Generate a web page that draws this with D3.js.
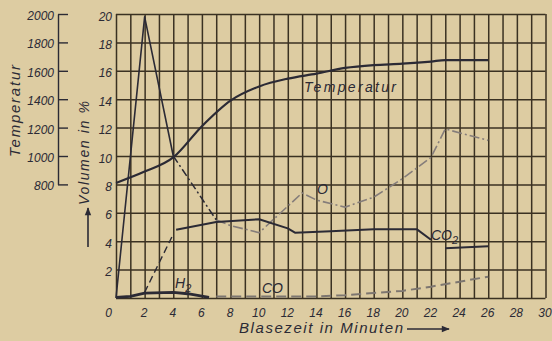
<!DOCTYPE html>
<html>
<head>
<meta charset="utf-8">
<script src="https://cdn.jsdelivr.net/npm/d3@7"></script>
<style>
	body { margin: 0; background: #ddcca2; }
	svg text { font-family: 'Liberation Sans', Arial, sans-serif; font-style: italic; fill: #2b2a35; }
</style>
</head>
<body>
<div id="chart"></div>
<script>
// tick labels
const xTicks = [0, 2, 4, 6, 8, 10, 12, 14, 16, 18, 20, 22, 24, 26, 28, 30]
const yTicks = [2, 4, 6, 8, 10, 12, 14, 16, 18, 20]
const tempTicks = [800, 1000, 1200, 1400, 1600, 1800, 2000]

// Temperatur (deg C)
const tempTime = [0, 2, 4, 6, 8, 10, 12, 14, 16, 18, 20, 22, 23, 26]
const tempValue = [810, 890, 990, 1210, 1390, 1490, 1545, 1580, 1620, 1640, 1650, 1665, 1675, 1675]

// O (vol %)
const oTime = [0, 2, 4, 7, 8, 10, 13, 14, 16, 18, 20, 22, 23, 26]
const oValue = [0, 19.8, 10, 5.5, 5.1, 4.6, 7.4, 6.9, 6.4, 7.1, 8.4, 9.9, 11.9, 11.1]

// CO2 (vol %), null = break in the line
const co2Time = [2, 3.9, 4, 4.2, 7, 10, 12, 12.5, 15, 18, 21, 22, 22.5, 23, 26]
const co2Value = [0.4, 4.3, null, 4.8, 5.35, 5.55, 4.9, 4.6, 4.7, 4.85, 4.85, 4.1, null, 3.5, 3.65]

// H2 (vol %)
const h2Time = [0, 1, 2, 4, 5, 6.5]
const h2Value = [0.05, 0.12, 0.35, 0.4, 0.3, 0.05]

// CO (vol %)
const coTime = [7, 14, 16, 18, 20, 22, 24, 26]
const coValue = [0.1, 0.1, 0.2, 0.35, 0.5, 0.8, 1.15, 1.5]

var width = 552
var height = 341
var ink = '#2b2a35'
var gridColor = '#3a3122'

var x = d3.scaleLinear().domain([0, 30]).range([116, 545.5])
var y = d3.scaleLinear().domain([0, 20]).range([298, 14])
// temperature axis shares the upper part of the volume axis
var yt = d3.scaleLinear().domain([800, 2000]).range([y(8), y(20)])

var svg = d3.select('#chart')
	.append('svg')
	.attr('width', width)
	.attr('height', height)

svg.append('rect')
	.attr('width', width)
	.attr('height', height)
	.attr('fill', '#ddcca2')

var defs = svg.append('defs')
defs.append('marker')
	.attr('id', 'arrow')
	.attr('viewBox', '0 0 10 10')
	.attr('refX', 9).attr('refY', 5)
	.attr('markerWidth', 7).attr('markerHeight', 5)
	.attr('orient', 'auto')
	.append('path')
	.attr('d', 'M0,1 L10,5 L0,9 Z')
	.attr('fill', ink)

// grid: every minute vertically, every 2 % horizontally
var xGrid = svg.append('g')
	.attr('transform', 'translate(0,' + y(0) + ')')
	.call(d3.axisBottom(x)
		.tickValues(d3.range(0, 31))
		.tickSize(-(y(0) - y(20)))
		.tickPadding(10)
		.tickFormat(d => xTicks.includes(d) ? d : ''))
xGrid.select('.domain').remove()
xGrid.selectAll('line').attr('stroke', gridColor).attr('stroke-width', 1.5)
xGrid.selectAll('text')
	.style('font-size', '12px')
	.attr('fill', ink)
	.attr('dx', d => d == 0 ? -8 : -1)

var yGrid = svg.append('g')
	.attr('transform', 'translate(' + x(0) + ',0)')
	.call(d3.axisLeft(y)
		.tickValues(d3.range(0, 21, 2))
		.tickSize(-(x(30) - x(0)))
		.tickPadding(4)
		.tickFormat(d => yTicks.includes(d) ? d : ''))
yGrid.select('.domain').remove()
yGrid.selectAll('line').attr('stroke', gridColor).attr('stroke-width', 1.5)
yGrid.selectAll('text')
	.style('font-size', '12px')
	.attr('fill', ink)
	.attr('dy', '0.5em')

// temperature axis
var tAxis = svg.append('g')
	.attr('transform', 'translate(58,0)')
	.call(d3.axisLeft(yt)
		.tickValues(tempTicks)
		.tickSizeInner(-10)
		.tickSizeOuter(0)
		.tickPadding(4)
		.tickFormat(d3.format('d')))
tAxis.select('.domain').attr('stroke', ink).attr('stroke-width', 1.4)
tAxis.selectAll('line').attr('stroke', ink).attr('stroke-width', 1.4)
tAxis.selectAll('text')
	.style('font-size', '12px')
	.attr('fill', ink)
	.attr('dy', '0.45em')

// axis titles
svg.append('text')
	.attr('transform', 'translate(20,111) rotate(-90)')
	.attr('text-anchor', 'middle')
	.attr('textLength', 92)
	.style('font-size', '15px')
	.text('Temperatur')

svg.append('text')
	.attr('transform', 'translate(89,153) rotate(-90)')
	.attr('text-anchor', 'middle')
	.attr('textLength', 104)
	.style('font-size', '14px')
	.text('Volumen in %')

svg.append('line')
	.attr('x1', 88).attr('y1', 247)
	.attr('x2', 88).attr('y2', 208)
	.attr('stroke', ink)
	.attr('stroke-width', 1.6)
	.attr('marker-end', 'url(#arrow)')

svg.append('text')
	.attr('x', 239)
	.attr('y', 333)
	.attr('textLength', 164)
	.style('font-size', '15px')
	.text('Blasezeit in Minuten')

svg.append('line')
	.attr('x1', 407).attr('y1', 329)
	.attr('x2', 449).attr('y2', 329)
	.attr('stroke', ink)
	.attr('stroke-width', 1.6)
	.attr('marker-end', 'url(#arrow)')

// series helpers
function points(ts, vs) {
	return ts.map((t, i) => ({ t: t, v: vs[i] }))
}

var line = d3.line()
	.defined(d => d.v != null)
	.x(d => x(d.t))
	.y(d => y(d.v))

var tempLine = d3.line()
	.x(d => x(d.t))
	.y(d => yt(d.v))
	.curve(d3.curveMonotoneX)

function draw(data, gen, color, w, dash) {
	svg.append('path')
		.datum(data)
		.attr('d', gen)
		.attr('fill', 'none')
		.attr('stroke', color)
		.attr('stroke-width', w)
		.attr('stroke-linejoin', 'round')
		.attr('stroke-dasharray', dash || null)
}

var oPts = points(oTime, oValue)
var co2Pts = points(co2Time, co2Value)

// CO
draw(points(coTime, coValue), line, '#7d7670', 2, '10,5')
// O: solid peak, dash-dot drop, faded rest
draw(oPts.slice(3), line, '#857d7a', 1.6, '10,3,2,3')
draw(oPts.slice(2, 4), line, ink, 1.5, '8,3,2,3')
draw(oPts.slice(0, 3), line, ink, 1.6)
// CO2
draw(co2Pts.slice(0, 2), line, ink, 1.4, '7,4')
draw(co2Pts.slice(2), line, ink, 2)
// H2
draw(points(h2Time, h2Value), line, ink, 2.8)
// Temperatur
draw(points(tempTime, tempValue), tempLine, ink, 2.2)

// series labels
svg.append('text')
	.attr('x', 304).attr('y', 92)
	.attr('textLength', 92)
	.style('font-size', '14px')
	.text('Temperatur')

svg.append('text')
	.attr('x', 317).attr('y', 194)
	.style('font-size', '14px')
	.text('O')

var co2Label = svg.append('text')
	.attr('x', 431).attr('y', 240)
	.style('font-size', '14px')
co2Label.append('tspan').text('CO')
co2Label.append('tspan').attr('dy', 4).style('font-size', '11px').text('2')

var h2Label = svg.append('text')
	.attr('x', 175).attr('y', 288)
	.style('font-size', '14px')
h2Label.append('tspan').text('H')
h2Label.append('tspan').attr('dy', 4).style('font-size', '11px').text('2')

svg.append('text')
	.attr('x', 262).attr('y', 293)
	.style('font-size', '14px')
	.text('CO')
</script>
</body>
</html>
